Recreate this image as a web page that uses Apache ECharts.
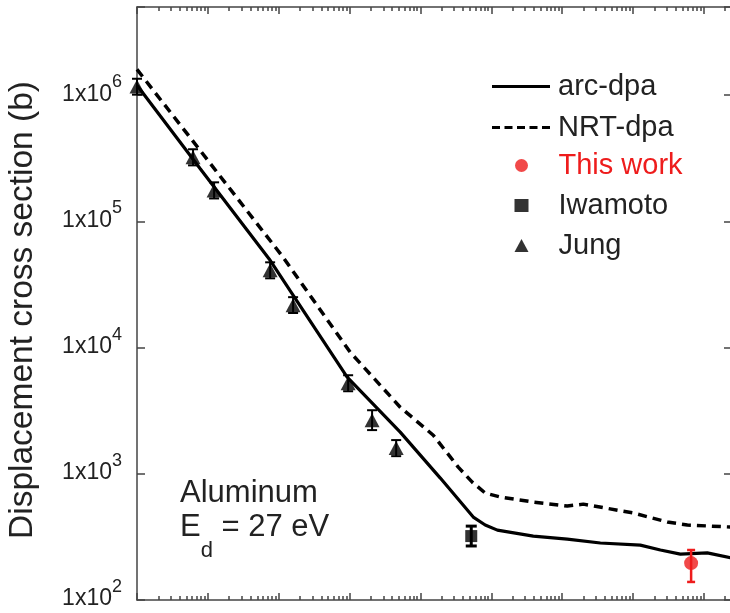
<!DOCTYPE html>
<html><head><meta charset="utf-8">
<script src="https://cdn.jsdelivr.net/npm/echarts@6/dist/echarts.min.js"></script>
<style>html,body{margin:0;padding:0;background:#fff}#c{width:730px;height:613px}</style>
</head><body><div id="c"></div>
<script>
// axis ranges
const X_MIN = 1e-3, X_MAX = 2.5e5, Y_MIN = 100, Y_MAX = 5e6;

// arc-dpa (solid)
const arcX = [0.001, 0.00776, 0.0757, 0.925, 5.19, 19.1, 55.7, 82.2, 122, 392, 1183, 3467, 12700, 24400, 46700, 112000, 250000];
const arcY = [1.2e6, 2.63e5, 4.92e4, 5830, 2140, 925, 454, 393, 358, 321, 304, 283, 272, 249, 231, 236, 215];

// NRT-dpa (dashed)
const nrtX = [0.001, 0.00776, 0.1153, 1.02, 5.19, 15.2, 34.2, 53.9, 82.2, 134, 392, 1183, 1990, 10100, 30600, 58600, 250000];
const nrtY = [1.6e6, 3.66e5, 5.2e4, 9200, 3370, 2020, 1130, 859, 703, 655, 597, 555, 575, 489, 415, 393, 378];

// Jung
const jungX  = [0.001, 0.00618, 0.01225, 0.0757, 0.1596, 0.955, 2.08, 4.55];
const jungY  = [1.17e6, 3.22e5, 1.76e5, 4.10e4, 2.17e4, 5220, 2660, 1600];
const jungLo = [1.01e6, 2.78e5, 1.52e5, 3.54e4, 1.88e4, 4510, 2220, 1380];
const jungHi = [1.35e6, 3.73e5, 2.04e5, 4.74e4, 2.51e4, 6040, 3190, 1850];

// Iwamoto
const iwaX = [52.2], iwaY = [321], iwaLo = [268], iwaHi = [385];

// This work
const thisX = [66200], thisY = [196], thisLo = [139], thisHi = [249];

// y tick decades shown as labels
const yLabelExps = [2, 3, 4, 5, 6];

const RED = '#ee1c1c';
const FONT = '"Liberation Sans", Arial, sans-serif';

function pairs(xs, ys) { return xs.map((x, i) => [x, ys[i]]); }
function triples(xs, lo, hi) { return xs.map((x, i) => [x, lo[i], hi[i]]); }

function errRender(capW, color, lw) {
  return function (params, api) {
    const x = api.value(0), lo = api.value(1), hi = api.value(2);
    const a = api.coord([x, hi]);
    const b = api.coord([x, lo]);
    const st = { stroke: color, lineWidth: lw };
    return {
      type: 'group',
      children: [
        { type: 'line', shape: { x1: a[0], y1: a[1], x2: b[0], y2: b[1] }, style: st },
        { type: 'line', shape: { x1: a[0] - capW / 2, y1: a[1], x2: a[0] + capW / 2, y2: a[1] }, style: st },
        { type: 'line', shape: { x1: b[0] - capW / 2, y1: b[1], x2: b[0] + capW / 2, y2: b[1] }, style: st }
      ]
    };
  };
}

// minor tick positions (log10 space) for the decoration axes
const minorTicks = [];
for (let e = Math.floor(Math.log10(X_MIN)); e <= Math.ceil(Math.log10(X_MAX)); e++) {
  for (let k = 2; k <= 9; k++) {
    const v = Math.log10(k) + e;
    if (v > Math.log10(X_MIN) && v < Math.log10(X_MAX)) minorTicks.push(v);
  }
}

const axisLineStyle = { color: '#444', width: 1.5 };
const noZero = { show: true, onZero: false, lineStyle: axisLineStyle };

// legend icon shapes
const SOLID_ICON = 'path://M0,0H58V3H0Z';
const DASH_ICON = 'path://M0,0h8v3h-8z M12.5,0h8v3h-8z M25,0h8v3h-8z M37.5,0h8v3h-8z M50,0h8v3h-8z';

const chart = echarts.init(document.getElementById('c'), null, { renderer: 'canvas' });
chart.setOption({
  animation: false,
  backgroundColor: '#fff',
  textStyle: { fontFamily: FONT },
  grid: { left: 137, top: 7, width: 595, height: 593, containLabel: false, outerBoundsMode: 'none' },
  xAxis: [
    { type: 'log', min: X_MIN, max: X_MAX, position: 'bottom', gridIndex: 0,
      axisLine: noZero,
      axisTick: { show: true, inside: true, length: 7, lineStyle: axisLineStyle },
      axisLabel: { show: false }, splitLine: { show: false } },
    { type: 'log', min: X_MIN, max: X_MAX, position: 'top', gridIndex: 0,
      axisLine: noZero,
      axisTick: { show: true, inside: true, length: 7, lineStyle: axisLineStyle },
      axisLabel: { show: false }, splitLine: { show: false } },
    { type: 'value', min: Math.log10(X_MIN), max: Math.log10(X_MAX), position: 'bottom', gridIndex: 0,
      axisLine: { show: false, onZero: false },
      axisTick: { show: true, inside: true, length: 4, customValues: minorTicks, lineStyle: axisLineStyle },
      axisLabel: { show: false }, splitLine: { show: false } },
    { type: 'value', min: Math.log10(X_MIN), max: Math.log10(X_MAX), position: 'top', gridIndex: 0,
      axisLine: { show: false, onZero: false },
      axisTick: { show: true, inside: true, length: 4, customValues: minorTicks, lineStyle: axisLineStyle },
      axisLabel: { show: false }, splitLine: { show: false } }
  ],
  yAxis: [
    { type: 'log', min: Y_MIN, max: Y_MAX, position: 'left', gridIndex: 0,
      name: 'Displacement cross section (b)', nameLocation: 'middle', nameGap: 97, nameRotate: 90,
      nameTextStyle: { fontSize: 33.5, color: '#222', fontFamily: FONT, padding: [0, 13, 0, 0] },
      axisLine: noZero,
      axisTick: { show: true, inside: true, length: 8, lineStyle: axisLineStyle },
      splitLine: { show: false },
      axisLabel: {
        margin: 15, color: '#222', fontFamily: FONT,
        formatter: function (v) {
          const e = Math.round(Math.log10(v));
          if (Math.abs(Math.log10(v) - e) > 1e-6 || yLabelExps.indexOf(e) < 0) return '';
          return '{m|1x10}{s|' + e + '}';
        },
        rich: {
          m: { fontSize: 23, color: '#222', fontFamily: FONT, lineHeight: 23, padding: [0, 0, 2, 0] },
          s: { fontSize: 18, color: '#222', fontFamily: FONT, lineHeight: 18, padding: [0, 0, 26, 0] }
        }
      } },
    { type: 'log', min: Y_MIN, max: Y_MAX, position: 'right', gridIndex: 0,
      axisLine: noZero,
      axisTick: { show: true, inside: true, length: 8, lineStyle: axisLineStyle },
      axisLabel: { show: false }, splitLine: { show: false } }
  ],
  legend: [
    {
      orient: 'vertical', left: 492, top: 72, padding: 0,
      itemWidth: 58, itemHeight: 3, itemGap: 12, symbolKeepAspect: true,
      textStyle: { fontSize: 29, color: '#222', fontFamily: FONT, lineHeight: 27, padding: [0, 0, 0, 3] },
      data: [
        { name: 'arc-dpa', icon: SOLID_ICON },
        { name: 'NRT-dpa', icon: DASH_ICON }
      ]
    },
    {
      orient: 'vertical', left: 514.5, top: 151, padding: 0,
      itemWidth: 14, itemHeight: 13, itemGap: 11, symbolKeepAspect: true,
      textStyle: { fontSize: 29, color: '#222', fontFamily: FONT, lineHeight: 27, padding: [0, 0, 0, 25] },
      data: [
        { name: 'This work', icon: 'circle', textStyle: { color: RED } },
        { name: 'Iwamoto', icon: 'rect' },
        { name: 'Jung', icon: 'triangle' }
      ]
    }
  ],
  graphic: [
    { type: 'text', left: 180, top: 478, z: 10,
      style: { text: 'Aluminum', fontSize: 31, fontFamily: FONT, fill: '#222' } },
    { type: 'text', left: 180, top: 512, z: 10,
      style: { text: '{e|E}{d|d}{e| = 27 eV}', fontFamily: FONT, fill: '#222',
        rich: {
          e: { fontSize: 31, fontFamily: FONT, fill: '#222', lineHeight: 50, verticalAlign: 'top' },
          d: { fontSize: 22, fontFamily: FONT, fill: '#222', lineHeight: 50, verticalAlign: 'bottom' }
        } } }
  ],
  series: [
    { name: 'arc-dpa', type: 'line', data: pairs(arcX, arcY), symbol: 'none',
      lineStyle: { color: '#000', width: 3.2 }, itemStyle: { color: '#000' }, z: 3 },
    { name: 'NRT-dpa', type: 'line', data: pairs(nrtX, nrtY), symbol: 'none',
      lineStyle: { color: '#000', width: 3.5, type: [9, 6] }, itemStyle: { color: '#000' }, z: 3 },
    { name: 'This work', type: 'scatter', data: pairs(thisX, thisY), symbol: 'circle', symbolSize: 14,
      itemStyle: { color: RED }, z: 5 },
    { name: 'Iwamoto', type: 'scatter', data: pairs(iwaX, iwaY), symbol: 'rect', symbolSize: 12,
      itemStyle: { color: '#000' }, z: 5 },
    { name: 'Jung', type: 'scatter', data: pairs(jungX, jungY), symbol: 'triangle', symbolSize: [15, 14],
      itemStyle: { color: '#000' }, z: 5 },
    { type: 'custom', data: triples(jungX, jungLo, jungHi), renderItem: errRender(10, '#000', 2),
      encode: { x: 0, y: [1, 2] }, z: 4, silent: true },
    { type: 'custom', data: triples(iwaX, iwaLo, iwaHi), renderItem: errRender(11, '#000', 3),
      encode: { x: 0, y: [1, 2] }, z: 4, silent: true },
    { type: 'custom', data: triples(thisX, thisLo, thisHi), renderItem: errRender(8, RED, 2.5),
      encode: { x: 0, y: [1, 2] }, z: 4, silent: true }
  ]
});
</script></body></html>
